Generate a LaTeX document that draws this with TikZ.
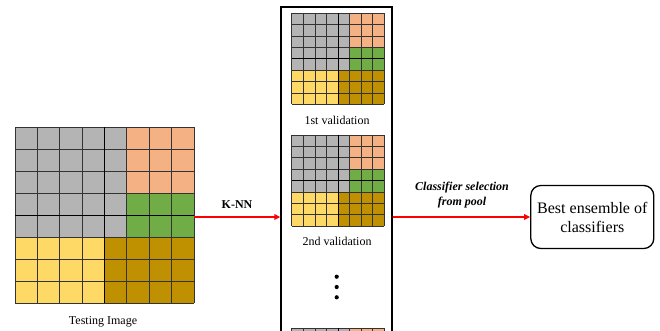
\documentclass[tikz,border=0pt]{standalone}
\usepackage{fontspec}
\setmainfont{Liberation Serif}
\usetikzlibrary{arrows.meta}
\definecolor{cgray}{RGB}{180,180,180}
\definecolor{corange}{RGB}{244,177,131}
\definecolor{cgreen}{RGB}{112,173,71}
\definecolor{cyellow}{RGB}{255,217,102}
\definecolor{cgold}{RGB}{191,144,0}
\definecolor{cred}{RGB}{255,0,0}
\tikzset{
  gridln/.style={draw=black!80, line width=#1},
  midln/.style={draw=black, line width=#1},
  redarrow/.style={draw=cred, line width=1.6pt, -{Triangle[length=6pt,width=5.5pt]}},
  lbl/.style={font=\fontsize{12}{14}\selectfont, inner sep=0pt},
  holder/.style={inner sep=0pt, draw=none},
}
\newcommand\pixgrid[5]{%
\begin{scope}[shift={(#1,#2)},x=#3pt,y=-#4pt]
\fill[cgray] (0,0) rectangle (5,5);
\fill[corange] (5,0) rectangle (8,3);
\fill[cgreen] (5,3) rectangle (8,5);
\fill[cyellow] (0,5) rectangle (4,8);
\fill[cgold] (4,5) rectangle (8,8);
\foreach \i in {0,...,8}{\draw[gridln=#5] (\i,0) -- (\i,8); \draw[gridln=#5] (0,\i) -- (8,\i);}
\draw[midln=#5] (4,0) -- (4,8);
\draw[midln=#5] (0,4) -- (8,4);
\end{scope}}
\begin{document}
\begin{tikzpicture}[x=1pt,y=-1pt]
\useasboundingbox (0,0) rectangle (660,330);
\clip (0,0) rectangle (660,330);
% testing image
\node[holder, minimum width=179pt, minimum height=176pt] (test) at (104.5,215) {};
\pixgrid{15}{127}{22.375}{22}{0.9pt}
\node[lbl] (testlbl) at (103,322) {Testing Image};
% middle column
\node[draw, line width=1.3pt, minimum width=111pt, minimum height=340pt, inner sep=0pt] (midbox) at (336.5,177) {};
\pixgrid{291.7}{13.3}{11.575}{11.375}{0.7pt}
\node[lbl] (v1) at (337,120) {1st validation};
\pixgrid{291.7}{135}{11.575}{11.375}{0.7pt}
\node[lbl] (v2) at (337,241.7) {2nd validation};
\fill (336.7,276.7) circle (2.1pt) coordinate (d1);
\fill (336.7,287) circle (2.1pt) coordinate (d2);
\fill (336.7,297.3) circle (2.1pt) coordinate (d3);
\pixgrid{291.7}{328}{11.575}{11.375}{0.7pt}
% right box
\node[draw, rounded corners=10pt, line width=1.3pt, minimum width=123pt, minimum height=63pt, align=center, inner sep=0pt, font=\fontsize{16}{19}\selectfont] (best) at (592.3,217) {Best ensemble of\\classifiers};
% arrows
\draw[redarrow] (test.east |- best.west) -- (midbox.west |- best.west);
\draw[redarrow] (midbox.east |- best.west) -- (best.west);
\node[lbl, font=\fontsize{12}{14}\selectfont\bfseries] (knn) at (237,205) {K-NN};
\node[lbl, font=\fontsize{12}{15}\selectfont\bfseries\itshape, align=center] (sel) at (462,195.5) {Classifier selection\\from pool};
\end{tikzpicture}
\end{document}
